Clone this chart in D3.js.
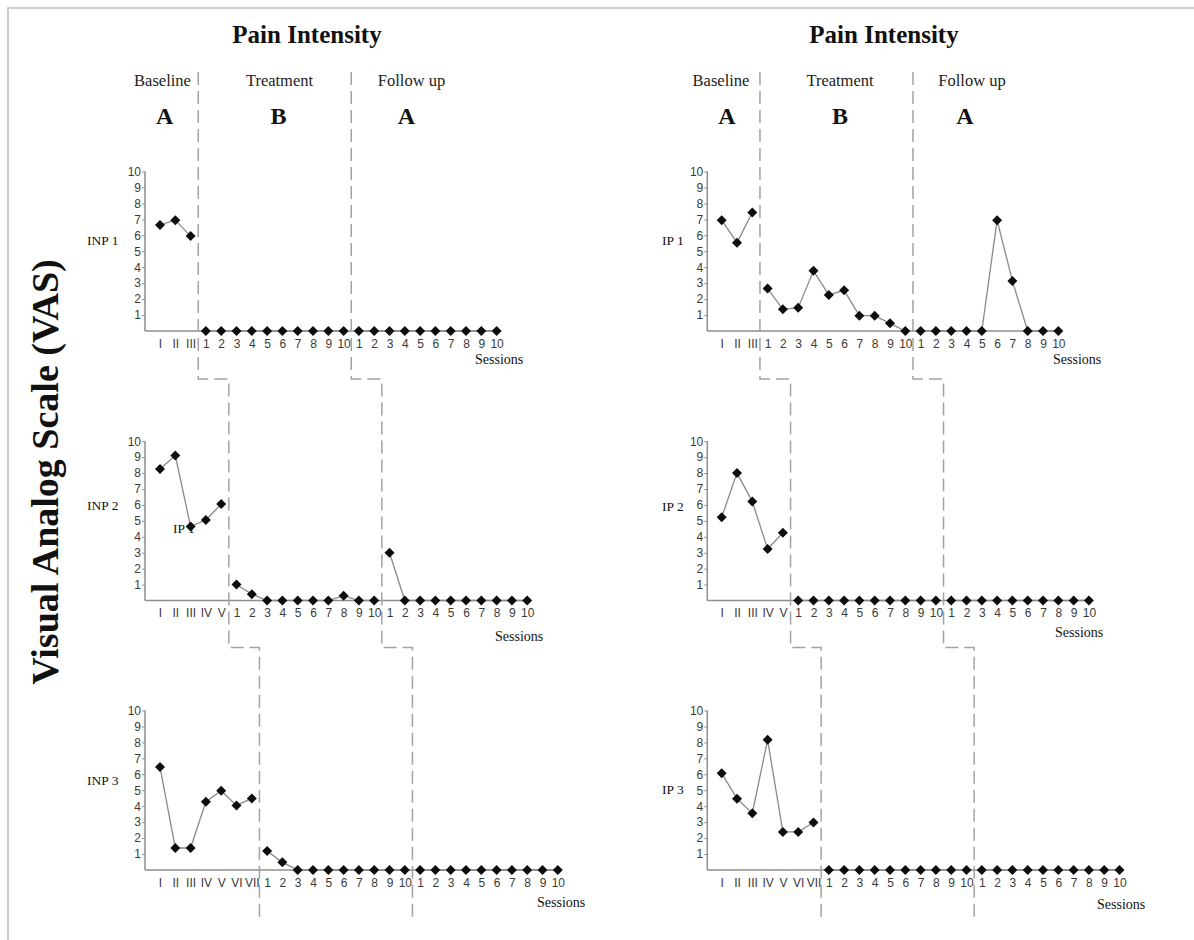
<!DOCTYPE html>
<html><head><meta charset="utf-8">
<script src="https://cdn.jsdelivr.net/npm/d3@7"></script>
<style>body{margin:0;background:#fff}svg{display:block}</style>
</head><body>
<svg id="c" width="1194" height="940"></svg>
<script>
// ---------- data ----------
const yTicks = [1,2,3,4,5,6,7,8,9,10];
const romanLabels = ["I","II","III","IV","V","VI","VII"];
const sessionLabels = ["1","2","3","4","5","6","7","8","9","10"];
const phaseNames = ["Baseline","Treatment","Follow up"];
const phaseLetters = ["A","B","A"];
const chartTitle = "Pain Intensity";
const yAxisTitle = "Visual Analog Scale (VAS)";
const xAxisTitle = "Sessions";
const patients = ["INP 1","INP 2","INP 3","IP 1","IP 2","IP 3"];

const inp1Baseline  = [6.65, 6.95, 5.95];
const inp1Treatment = [0,0,0,0,0,0,0,0,0,0];
const inp1Follow    = [0,0,0,0,0,0,0,0,0,0];

const inp2Baseline  = [8.25, 9.1, 4.65, 5.05, 6.05];
const inp2Treatment = [1.0, 0.4, 0,0,0,0,0, 0.3, 0, 0];
const inp2Follow    = [3.0, 0,0,0,0,0,0,0,0,0];

const inp3Baseline  = [6.45, 1.38, 1.38, 4.28, 4.97, 4.05, 4.49];
const inp3Treatment = [1.19, 0.48, 0,0,0,0,0,0,0,0];
const inp3Follow    = [0,0,0,0,0,0,0,0,0,0];

const ip1Baseline   = [6.95, 5.54, 7.43];
const ip1Treatment  = [2.66, 1.36, 1.46, 3.77, 2.26, 2.55, 0.96, 0.96, 0.48, 0];
const ip1Follow     = [0,0,0,0,0, 6.95, 3.14, 0,0,0];

const ip2Baseline   = [5.23, 8.01, 6.21, 3.24, 4.25];
const ip2Treatment  = [0,0,0,0,0,0,0,0,0,0];
const ip2Follow     = [0,0,0,0,0,0,0,0,0,0];

const ip3Baseline   = [6.06, 4.47, 3.56, 8.16, 2.39, 2.39, 2.98];
const ip3Treatment  = [0,0,0,0,0,0,0,0,0,0];
const ip3Follow     = [0,0,0,0,0,0,0,0,0,0];

const seriesByPatient = [
  [inp1Baseline, inp1Treatment, inp1Follow],
  [inp2Baseline, inp2Treatment, inp2Follow],
  [inp3Baseline, inp3Treatment, inp3Follow],
  [ip1Baseline, ip1Treatment, ip1Follow],
  [ip2Baseline, ip2Treatment, ip2Follow],
  [ip3Baseline, ip3Treatment, ip3Follow]
];
const strayLabel = "IP 1";

// ---------- layout (positions, not data) ----------
const cols = [
  {axisX:145, firstX:160, step:15.3, titleX:307, phaseX:[162.5,279.5,411.5], letterX:[164.6,278.6,406.4], patientX:87},
  {axisX:707.3, firstX:721.7, step:15.3, titleX:884, phaseX:[721,840,972], letterX:[727,840,965], patientX:662}
];
const rows = [
  {y0:331, y10:171.5, stepY:379},
  {y0:600.5, y10:441.2, stepY:647.6},
  {y0:870, y10:710.5, stepY:918}
];
const sessionsPos = [[475,364],[495,641],[537,907],[1053,364],[1055,637],[1097,909]];
const patientY = [245, 509.5, 784.5, 245, 510.5, 793.5];

const svg = d3.select("#c");
const serif = "'Liberation Serif','Times New Roman',serif";
const sans = "'Liberation Sans',Arial,sans-serif";
const axisColor = "#8e8e8e";
const dashColor = "#a3a3a3";

// frame
svg.append("path").attr("d","M8,940V8H1194").attr("fill","none")
  .attr("stroke","#cfcfcf").attr("stroke-width",2);

// y axis title
svg.append("text").attr("transform","translate(58,472) rotate(-90)")
  .attr("text-anchor","middle").attr("font-family",serif).attr("font-weight","bold")
  .attr("font-size",38).attr("fill","#111").text(yAxisTitle);

const diamond = d3.symbol().type(d3.symbolSquare).size(50);

const panelScales = [];
seriesByPatient.forEach((phases, p) => {
  const c = cols[Math.floor(p/3)], r = rows[p%3];
  const nB = phases[0].length;
  const all = [];
  phases.forEach((arr, ph) => arr.forEach((v, i) => {
    const idx = ph===0 ? i : ph===1 ? nB+i : nB+10+i;
    all.push({idx, v, ph, label: ph===0 ? romanLabels[i] : sessionLabels[i]});
  }));
  const n = all.length;
  const x = d3.scaleLinear().domain([0, n-1]).range([c.firstX, c.firstX + (n-1)*c.step]);
  const y = d3.scaleLinear().domain([0, 10]).range([r.y0, r.y10]);
  panelScales.push({x, y, nB});
  const g = svg.append("g");

  // y axis
  const yAxis = d3.axisLeft(y).tickValues(yTicks).tickSize(3).tickPadding(1).tickFormat(d3.format("d"));
  const ya = g.append("g").attr("transform",`translate(${c.axisX},0)`).call(yAxis);
  ya.select(".domain").attr("d",`M0,${y(0)}V${y(10)}`).attr("stroke",axisColor).attr("stroke-width",1.5);
  ya.selectAll(".tick line").attr("stroke",axisColor);
  ya.selectAll(".tick text").attr("font-family",sans).attr("font-size",12).attr("fill","#3a3a3a");

  // x axis
  const xAxis = d3.axisBottom(x).tickValues(d3.range(n)).tickSize(0).tickPadding(8)
    .tickFormat(i => all[i].label);
  const xa = g.append("g").attr("transform",`translate(0,${r.y0})`).call(xAxis);
  xa.select(".domain").attr("d",`M${c.axisX},0H${x(n-1)+4}`).attr("stroke",axisColor).attr("stroke-width",1.5);
  xa.selectAll(".tick text").attr("font-family",sans).attr("font-size",12).attr("fill","#3a3a3a");

  // lines per phase
  const line = d3.line().x(d => x(d.idx)).y(d => y(d.v));
  [0,1,2].forEach(ph => {
    g.append("path").datum(all.filter(d => d.ph===ph)).attr("d", line)
      .attr("fill","none").attr("stroke","#8a8a8a").attr("stroke-width",1.3);
  });
  // markers
  g.selectAll("path.pt").data(all).join("path").attr("class","pt")
    .attr("d", diamond)
    .attr("transform", d => `translate(${x(d.idx)},${y(d.v)}) rotate(45)`)
    .attr("fill","#0d0d0d");

  // patient label
  g.append("text").attr("x", c.patientX).attr("y", patientY[p])
    .attr("font-family",serif).attr("font-size",13.5).attr("fill","#111").text(patients[p]);
  // sessions label
  g.append("text").attr("x", sessionsPos[p][0]).attr("y", sessionsPos[p][1])
    .attr("font-family",serif).attr("font-size",14).attr("fill","#111").text(xAxisTitle);
});

// stray label in INP 2 panel
svg.append("text").attr("x",173).attr("y",532.5).attr("font-family",serif)
  .attr("font-size",13.5).attr("fill","#111").text(strayLabel);

// dashed phase separators (stepped)
cols.forEach((c, ci) => {
  [0,1].forEach(b => {
    const xs = [0,1,2].map(ri => {
      const s = panelScales[ci*3+ri];
      const last = b===0 ? s.nB-1 : s.nB+9;
      return (s.x(last) + s.x(last+1))/2;
    });
    let d = `M${xs[0]},72`;
    rows.forEach((r, ri) => {
      d += `V${r.stepY}`;
      if (ri < 2) d += `H${xs[ri+1]}`;
    });
    svg.append("path").attr("d", d).attr("fill","none").attr("stroke",dashColor)
      .attr("stroke-width",1.5).attr("stroke-dasharray","13,6");
  });
  // header
  svg.append("text").attr("x", c.titleX).attr("y", 43).attr("text-anchor","middle")
    .attr("font-family",serif).attr("font-weight","bold").attr("font-size",25)
    .attr("fill","#111").text(chartTitle);
  phaseNames.forEach((nm, i) => {
    svg.append("text").attr("x", c.phaseX[i]).attr("y", 86).attr("text-anchor","middle")
      .attr("font-family",serif).attr("font-size",16.5).attr("fill","#222").text(nm);
    svg.append("text").attr("x", c.letterX[i]).attr("y", 124).attr("text-anchor","middle")
      .attr("font-family",serif).attr("font-weight","bold").attr("font-size",24)
      .attr("fill","#111").text(phaseLetters[i]);
  });
});
</script>
</body></html>
